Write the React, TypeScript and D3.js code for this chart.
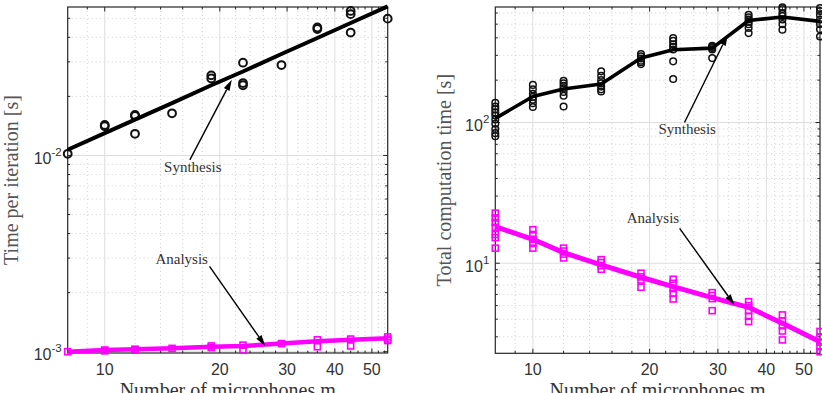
import React from "react";
import * as d3 from "d3";

// ---------- data ----------
const mics = [8, 10, 12, 15, 19, 23, 29, 36, 44, 55];

// Left: time per iteration [s]
const leftSynthRuns = [
  [0.0102],
  [0.0143, 0.0141],
  [0.0161, 0.0159, 0.0129],
  [0.0164],
  [0.0256, 0.0247],
  [0.0297, 0.0234, 0.0228],
  [0.0289],
  [0.0449, 0.0441],
  [0.0545, 0.0525, 0.0423],
  [0.0498],
];
const leftSynthFit = [0.0107, 0.013, 0.01524, 0.0185, 0.0228, 0.0268, 0.0329, 0.0397, 0.0473, 0.0575];
const leftAnaRuns = [
  [0.001],
  [0.00102, 0.00101],
  [0.00103, 0.00102],
  [0.00104],
  [0.00107, 0.00105],
  [0.00108, 0.00102],
  [0.0011],
  [0.00115, 0.00106],
  [0.00116, 0.00107],
  [0.00119, 0.00116, 0.00114],
];
const leftAnaFit = [0.001, 0.00102, 0.00103, 0.00104, 0.00106, 0.00107, 0.0011, 0.00113, 0.00115, 0.00117];

// Right: total computation time [s]
const rightSynthRuns = [
  [138, 130, 124, 118, 112, 105, 98, 90, 84, 80],
  [185, 172, 160, 152, 145, 137, 129],
  [198, 190, 182, 175, 165, 155, 130],
  [231, 215, 200, 190, 180, 172, 166],
  [306, 295, 285, 275, 268, 260],
  [398, 380, 360, 345, 330, 272, 204],
  [351, 345, 338, 330, 287],
  [583, 560, 540, 520, 500, 470, 432],
  [660, 640, 600, 570, 540, 500, 456],
  [651, 620, 580, 540, 500, 460, 409],
];
const rightSynthMean = [107, 153, 173, 188, 287, 329, 338, 531, 562, 523];
const rightAnaRuns = [
  [22.7, 21, 19.5, 18, 16, 15.2, 12.8],
  [17.3, 16, 14.8, 13.8, 12.8],
  [12.8, 12.2, 11.6, 10.9],
  [10.6, 10.1, 9.6, 9.06],
  [8.49, 8.0, 7.6, 6.75],
  [7.69, 7.2, 6.6, 6.1, 5.57],
  [6.18, 5.9, 5.6, 4.6],
  [5.33, 5.0, 4.6, 4.2, 3.85],
  [4.29, 3.9, 3.6, 3.3, 2.85],
  [3.27, 3.0, 2.75, 2.55, 2.35],
];
const rightAnaMean = [18.2, 14.8, 11.9, 9.73, 7.95, 6.82, 5.69, 4.86, 3.74, 2.77];

// ticks
const xMajorTicks = [10, 20, 30, 40, 50];
const xMinorTicks = [9, 12, 14, 16, 18, 22, 24, 26, 28, 32, 34, 36, 38, 42, 44, 46, 48, 52, 54];
const leftYMajorExp = [-3, -2];
const leftYMinor = [0.002, 0.003, 0.004, 0.005, 0.006, 0.007, 0.008, 0.009, 0.02, 0.03, 0.04, 0.05];
const rightYMajorExp = [1, 2];
const rightYMinor = [3, 4, 5, 6, 7, 8, 9, 20, 30, 40, 50, 60, 70, 80, 90, 200, 300, 400, 500, 600];

const xLabel = "Number of microphones m";
const leftYLabel = "Time per iteration [s]";
const rightYLabel = "Total computation time [s]";

// annotations in data coordinates: [textX, textY, tailX, tailY, tipX, tipY]
const leftAnnotations = [
  { text: "Synthesis", pos: [17, 0.0088, 16.7, 0.0095, 21.5, 0.0243] },
  { text: "Analysis", pos: [15.9, 0.00296, 18.8, 0.00272, 26.3, 0.00107] },
];
const rightAnnotations = [
  { text: "Synthesis", pos: [25, 89.7, 24.6, 100, 31.8, 421] },
  { text: "Analysis", pos: [20.4, 20.9, 23.9, 17.7, 33.1, 5.05] },
];

const AXC = "#262626";
const MAG = "#ff00ff";
const SERIF = "'Liberation Serif', 'Times New Roman', serif";
const SANS = "'Liberation Sans', Arial, Helvetica, sans-serif";

type PanelProps = {
  left: number;
  right: number;
  top: number;
  bottom: number;
  yDomain: [number, number];
  yMajorExp: number[];
  yMinor: number[];
  synthRuns: number[][];
  synthLine: number[];
  anaRuns: number[][];
  anaLine: number[];
  yLabel: string;
  yLabelX: number;
  annotations: { text: string; pos: number[] }[];
  circleR: number;
  circleSW: number;
  synthLW: number;
  anaLW: number;
};

function Panel(p: PanelProps) {
  const x = d3.scaleLog().domain([8, 55]).range([p.left, p.right]);
  const y = d3.scaleLog().domain(p.yDomain).range([p.bottom, p.top]);
  const line = d3
    .line<number>()
    .x((_, i) => x(mics[i]))
    .y((d) => y(d));
  const majT = 4.5;
  const minT = 2.5;
  const majorY = p.yMajorExp.map((e) => Math.pow(10, e));
  const sq = 6;

  return (
    <g>
      {/* grid */}
      <g>
        {xMinorTicks.map((t) => (
          <line key={"gxm" + t} x1={x(t)} x2={x(t)} y1={p.top} y2={p.bottom} stroke="#c4c4c4" strokeWidth={0.8} strokeDasharray="1,3" />
        ))}
        {p.yMinor.map((t) => (
          <line key={"gym" + t} x1={p.left} x2={p.right} y1={y(t)} y2={y(t)} stroke="#c4c4c4" strokeWidth={0.8} strokeDasharray="1,3" />
        ))}
        {xMajorTicks.map((t) => (
          <line key={"gx" + t} x1={x(t)} x2={x(t)} y1={p.top} y2={p.bottom} stroke="#dedede" strokeWidth={1} />
        ))}
        {majorY.map((t) => (
          <line key={"gy" + t} x1={p.left} x2={p.right} y1={y(t)} y2={y(t)} stroke="#dedede" strokeWidth={1} />
        ))}
      </g>
      {/* ticks */}
      <g stroke={AXC} strokeWidth={1}>
        {xMajorTicks.map((t) => (
          <g key={"tx" + t}>
            <line x1={x(t)} x2={x(t)} y1={p.bottom} y2={p.bottom - majT} />
            <line x1={x(t)} x2={x(t)} y1={p.top} y2={p.top + majT} />
          </g>
        ))}
        {xMinorTicks.map((t) => (
          <g key={"txm" + t}>
            <line x1={x(t)} x2={x(t)} y1={p.bottom} y2={p.bottom - minT} />
            <line x1={x(t)} x2={x(t)} y1={p.top} y2={p.top + minT} />
          </g>
        ))}
        {majorY.map((t) => (
          <g key={"ty" + t}>
            <line x1={p.left} x2={p.left + majT} y1={y(t)} y2={y(t)} />
            <line x1={p.right} x2={p.right - majT} y1={y(t)} y2={y(t)} />
          </g>
        ))}
        {p.yMinor.map((t) => (
          <g key={"tym" + t}>
            <line x1={p.left} x2={p.left + minT} y1={y(t)} y2={y(t)} />
            <line x1={p.right} x2={p.right - minT} y1={y(t)} y2={y(t)} />
          </g>
        ))}
      </g>
      {/* box */}
      <rect x={p.left} y={p.top} width={p.right - p.left} height={p.bottom - p.top} fill="none" stroke={AXC} strokeWidth={1.2} />

      {/* tick labels */}
      {xMajorTicks.map((t) => (
        <text key={"lx" + t} x={x(t)} y={p.bottom + 22} textAnchor="middle" fontFamily={SANS} fontSize={16} fill="#333">
          {t}
        </text>
      ))}
      {p.yMajorExp.map((e) => (
        <text key={"ly" + e} x={p.left - 6} y={y(Math.pow(10, e)) + 8.5} textAnchor="end" fontFamily={SANS} fontSize={16} fill="#333">
          <tspan>10</tspan>
          <tspan dy={-8} fontSize={11.5}>{String(e)}</tspan>
        </text>
      ))}

      {/* axis labels */}
      <text x={(p.left + p.right) / 2} y={397} textAnchor="middle" fontFamily={SERIF} fontSize={20} fill="#333">
        {xLabel}
      </text>
      <text
        x={p.yLabelX}
        y={(p.top + p.bottom) / 2}
        transform={`rotate(-90, ${p.yLabelX}, ${(p.top + p.bottom) / 2})`}
        textAnchor="middle"
        fontFamily={SERIF}
        fontSize={20}
        fill="#555"
      >
        {p.yLabel}
      </text>

      {/* analysis */}
      <path d={line(p.anaLine) || ""} fill="none" stroke={MAG} strokeWidth={p.anaLW} strokeLinejoin="round" />
      {p.anaRuns.map((vals, i) =>
        vals.map((v, j) => (
          <rect
            key={"a" + i + "_" + j}
            x={x(mics[i]) - sq / 2}
            y={y(v) - sq / 2}
            width={sq}
            height={sq}
            fill="none"
            stroke={MAG}
            strokeWidth={1.6}
          />
        ))
      )}
      {/* synthesis */}
      {p.synthRuns.map((vals, i) =>
        vals.map((v, j) => (
          <circle key={"s" + i + "_" + j} cx={x(mics[i])} cy={y(v)} r={p.circleR} fill="none" stroke="#111" strokeWidth={p.circleSW} />
        ))
      )}
      <path d={line(p.synthLine) || ""} fill="none" stroke="#000" strokeWidth={p.synthLW} strokeLinejoin="round" />

      {/* annotations */}
      {p.annotations.map((a) => {
        const [tx, ty, ax0, ay0, ax1, ay1] = a.pos;
        const X0 = x(ax0), Y0 = y(ay0), X1 = x(ax1), Y1 = y(ay1);
        const ang = Math.atan2(Y1 - Y0, X1 - X0);
        const L = 11, W = 3.2;
        const bx = X1 - L * Math.cos(ang), by = Y1 - L * Math.sin(ang);
        const px = -Math.sin(ang) * W, py = Math.cos(ang) * W;
        return (
          <g key={a.text}>
            <line x1={X0} y1={Y0} x2={bx} y2={by} stroke="#000" strokeWidth={1.4} />
            <polygon points={`${X1},${Y1} ${bx + px},${by + py} ${bx - px},${by - py}`} fill="#000" />
            <text x={x(tx)} y={y(ty)} dy="0.35em" textAnchor="middle" fontFamily={SERIF} fontSize={15} fill="#333">
              {a.text}
            </text>
          </g>
        );
      })}
    </g>
  );
}

export default function App() {
  return (
    <svg width={822} height={393} style={{ position: "absolute", left: 0, top: 0, background: "#fff" }}>
      <rect x={0} y={0} width={822} height={393} fill="#fff" />
      <Panel
        left={67.7}
        right={387.7}
        top={7}
        bottom={353}
        yDomain={[0.000985, 0.0571]}
        yMajorExp={leftYMajorExp}
        yMinor={leftYMinor}
        synthRuns={leftSynthRuns}
        synthLine={leftSynthFit}
        anaRuns={leftAnaRuns}
        anaLine={leftAnaFit}
        yLabel={leftYLabel}
        yLabelX={18}
        annotations={leftAnnotations}
        circleR={3.9}
        circleSW={2}
        synthLW={4}
        anaLW={4.5}
      />
      <Panel
        left={495.3}
        right={820}
        top={7}
        bottom={353.3}
        yDomain={[2.29, 662]}
        yMajorExp={rightYMajorExp}
        yMinor={rightYMinor}
        synthRuns={rightSynthRuns}
        synthLine={rightSynthMean}
        anaRuns={rightAnaRuns}
        anaLine={rightAnaMean}
        yLabel={rightYLabel}
        yLabelX={451}
        annotations={rightAnnotations}
        circleR={3.3}
        circleSW={1.5}
        synthLW={3.6}
        anaLW={5}
      />
    </svg>
  );
}
